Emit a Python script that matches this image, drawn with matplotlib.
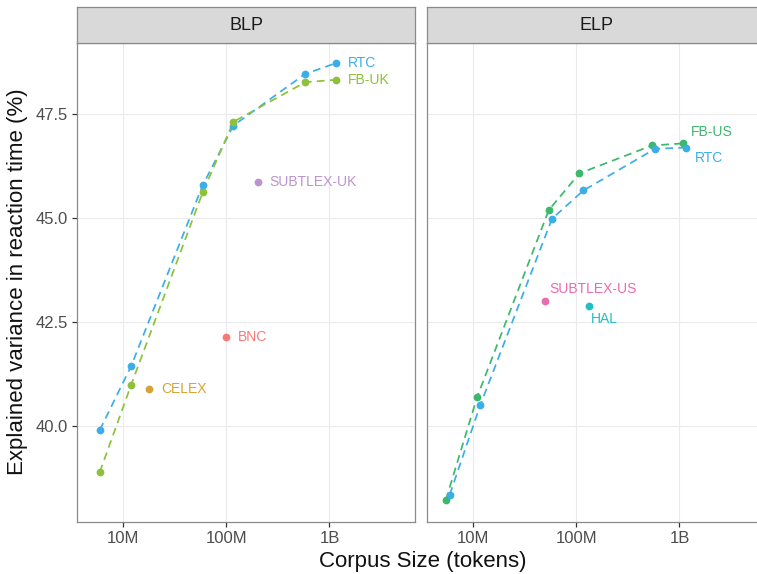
import matplotlib
matplotlib.use("Agg")
import matplotlib.pyplot as plt
import matplotlib.ticker as mticker

plt.rcParams['font.family'] = ['Liberation Sans', 'DejaVu Sans']

# ---------------- data ----------------
panels = ["BLP", "ELP"]

blp_rtc_x = [5.9e6, 11.9e6, 59e6, 117e6, 581e6, 1.16e9]
blp_rtc_y = [39.90, 41.44, 45.79, 47.22, 48.46, 48.72]
blp_fb_x = [5.9e6, 11.9e6, 59e6, 117e6, 581e6, 1.16e9]
blp_fb_y = [38.89, 40.99, 45.62, 47.31, 48.26, 48.32]

blp_single_names = ["SUBTLEX-UK", "BNC", "CELEX"]
blp_single_x = [202e6, 100e6, 17.9e6]
blp_single_y = [45.87, 42.15, 40.88]

elp_rtc_x = [5.9e6, 11.7e6, 58e6, 117e6, 581e6, 1.15e9]
elp_rtc_y = [38.35, 40.51, 44.98, 45.66, 46.66, 46.69]
elp_fb_x = [5.4e6, 10.9e6, 54e6, 107e6, 541e6, 1.08e9]
elp_fb_y = [38.22, 40.70, 45.19, 46.07, 46.74, 46.79]

elp_single_names = ["SUBTLEX-US", "HAL"]
elp_single_x = [50e6, 131e6]
elp_single_y = [43.01, 42.88]

x_ticks = [1e7, 1e8, 1e9]
x_tick_labels = ["10M", "100M", "1B"]
y_ticks = [40.0, 42.5, 45.0, 47.5]
y_tick_labels = ["40.0", "42.5", "45.0", "47.5"]

# ---------------- styles ----------------
col = {
    "RTC": "#3BAEE8",
    "FB-UK": "#8DC13A",
    "FB-US": "#3BB86C",
    "SUBTLEX-UK": "#BC93CE",
    "BNC": "#F47B76",
    "CELEX": "#D6A432",
    "SUBTLEX-US": "#E76CB2",
    "HAL": "#22BDC5",
}

W, H = 757, 574
fig = plt.figure(figsize=(W / 100, H / 100), dpi=100)

pan_bottom_px = 521.7
pan_top_px = 42.7
strip_top_px = 7.3
pan_w_px = 337.7
lefts_px = [77.3, 427.3]

xlim = (10 ** 6.553, 10 ** 9.83)
ylim = (37.70, 49.21)

border_col = "#8A8A8A"
grid_col = "#EBEBEB"
MS = 5.6


def make_panel(i):
    l = lefts_px[i]
    ax = fig.add_axes([l / W, 1 - pan_bottom_px / H, pan_w_px / W,
                       (pan_bottom_px - pan_top_px) / H])
    ax.set_xscale("log")
    ax.set_xlim(*xlim)
    ax.set_ylim(*ylim)
    ax.set_xticks(x_ticks)
    ax.set_xticklabels(x_tick_labels)
    ax.xaxis.set_minor_locator(mticker.NullLocator())
    ax.set_yticks(y_ticks)
    if i == 0:
        ax.set_yticklabels(y_tick_labels)
    else:
        ax.tick_params(axis="y", left=False, labelleft=False)
    ax.grid(True, color=grid_col, linewidth=0.8)
    ax.set_axisbelow(True)
    for s in ax.spines.values():
        s.set_color(border_col)
        s.set_linewidth(0.9)
    ax.tick_params(axis="both", direction="out", length=3.5, width=0.9,
                   color="#333333", labelsize=12, labelcolor="#4D4D4D", pad=3)
    # strip
    sax = fig.add_axes([l / W, 1 - pan_top_px / H, pan_w_px / W,
                        (pan_top_px - strip_top_px) / H])
    sax.set_facecolor("#D9D9D9")
    sax.set_xticks([])
    sax.set_yticks([])
    for s in sax.spines.values():
        s.set_color(border_col)
        s.set_linewidth(0.9)
    sax.text(0.5, 0.5, panels[i], ha="center", va="center", fontsize=13,
             color="#1A1A1A", transform=sax.transAxes)
    return ax


def series(ax, x, y, c):
    ax.plot(x, y, linestyle=(0, (4.5, 3)), color=c, linewidth=1.25, zorder=2)
    ax.plot(x, y, linestyle="none", marker="o", markersize=MS, color=c,
            markeredgewidth=0, zorder=3)


def label(ax, x, y, txt, c, dx, dy):
    ax.annotate(txt, (x, y), xytext=(dx, dy), textcoords="offset points",
                ha="left", va="center", fontsize=10, color=c, zorder=4)


ax1 = make_panel(0)
series(ax1, blp_rtc_x, blp_rtc_y, col["RTC"])
series(ax1, blp_fb_x, blp_fb_y, col["FB-UK"])
label(ax1, blp_rtc_x[-1], blp_rtc_y[-1], "RTC", col["RTC"], 8.5, 0)
label(ax1, blp_fb_x[-1], blp_fb_y[-1], "FB-UK", col["FB-UK"], 8.5, 0)
for n, x, y in zip(blp_single_names, blp_single_x, blp_single_y):
    ax1.plot([x], [y], marker="o", markersize=MS, color=col[n],
             markeredgewidth=0, linestyle="none", zorder=3)
    label(ax1, x, y, n, col[n], 8.5, 0)

ax2 = make_panel(1)
series(ax2, elp_fb_x, elp_fb_y, col["FB-US"])
series(ax2, elp_rtc_x, elp_rtc_y, col["RTC"])
label(ax2, elp_fb_x[-1], elp_fb_y[-1], "FB-US", col["FB-US"], 6, 8.5)
label(ax2, elp_rtc_x[-1], elp_rtc_y[-1], "RTC", col["RTC"], 6.5, -7.5)
ex = dict(zip(elp_single_names, zip(elp_single_x, elp_single_y)))
for n in elp_single_names:
    x, y = ex[n]
    ax2.plot([x], [y], marker="o", markersize=MS, color=col[n],
             markeredgewidth=0, linestyle="none", zorder=3)
label(ax2, ex["SUBTLEX-US"][0], ex["SUBTLEX-US"][1], "SUBTLEX-US",
      col["SUBTLEX-US"], 3, 8.5)
label(ax2, ex["HAL"][0], ex["HAL"][1], "HAL", col["HAL"], 2, -9.5)

fig.text(423 / W, 1 - 562 / H, "Corpus Size (tokens)", ha="center",
         va="center", fontsize=16, color="#111111")
fig.text(18 / W, 1 - 282 / H, "Explained variance in reaction time (%)",
         ha="center", va="center", rotation=90, fontsize=16, color="#111111")

fig.savefig("out.png", dpi=100)
